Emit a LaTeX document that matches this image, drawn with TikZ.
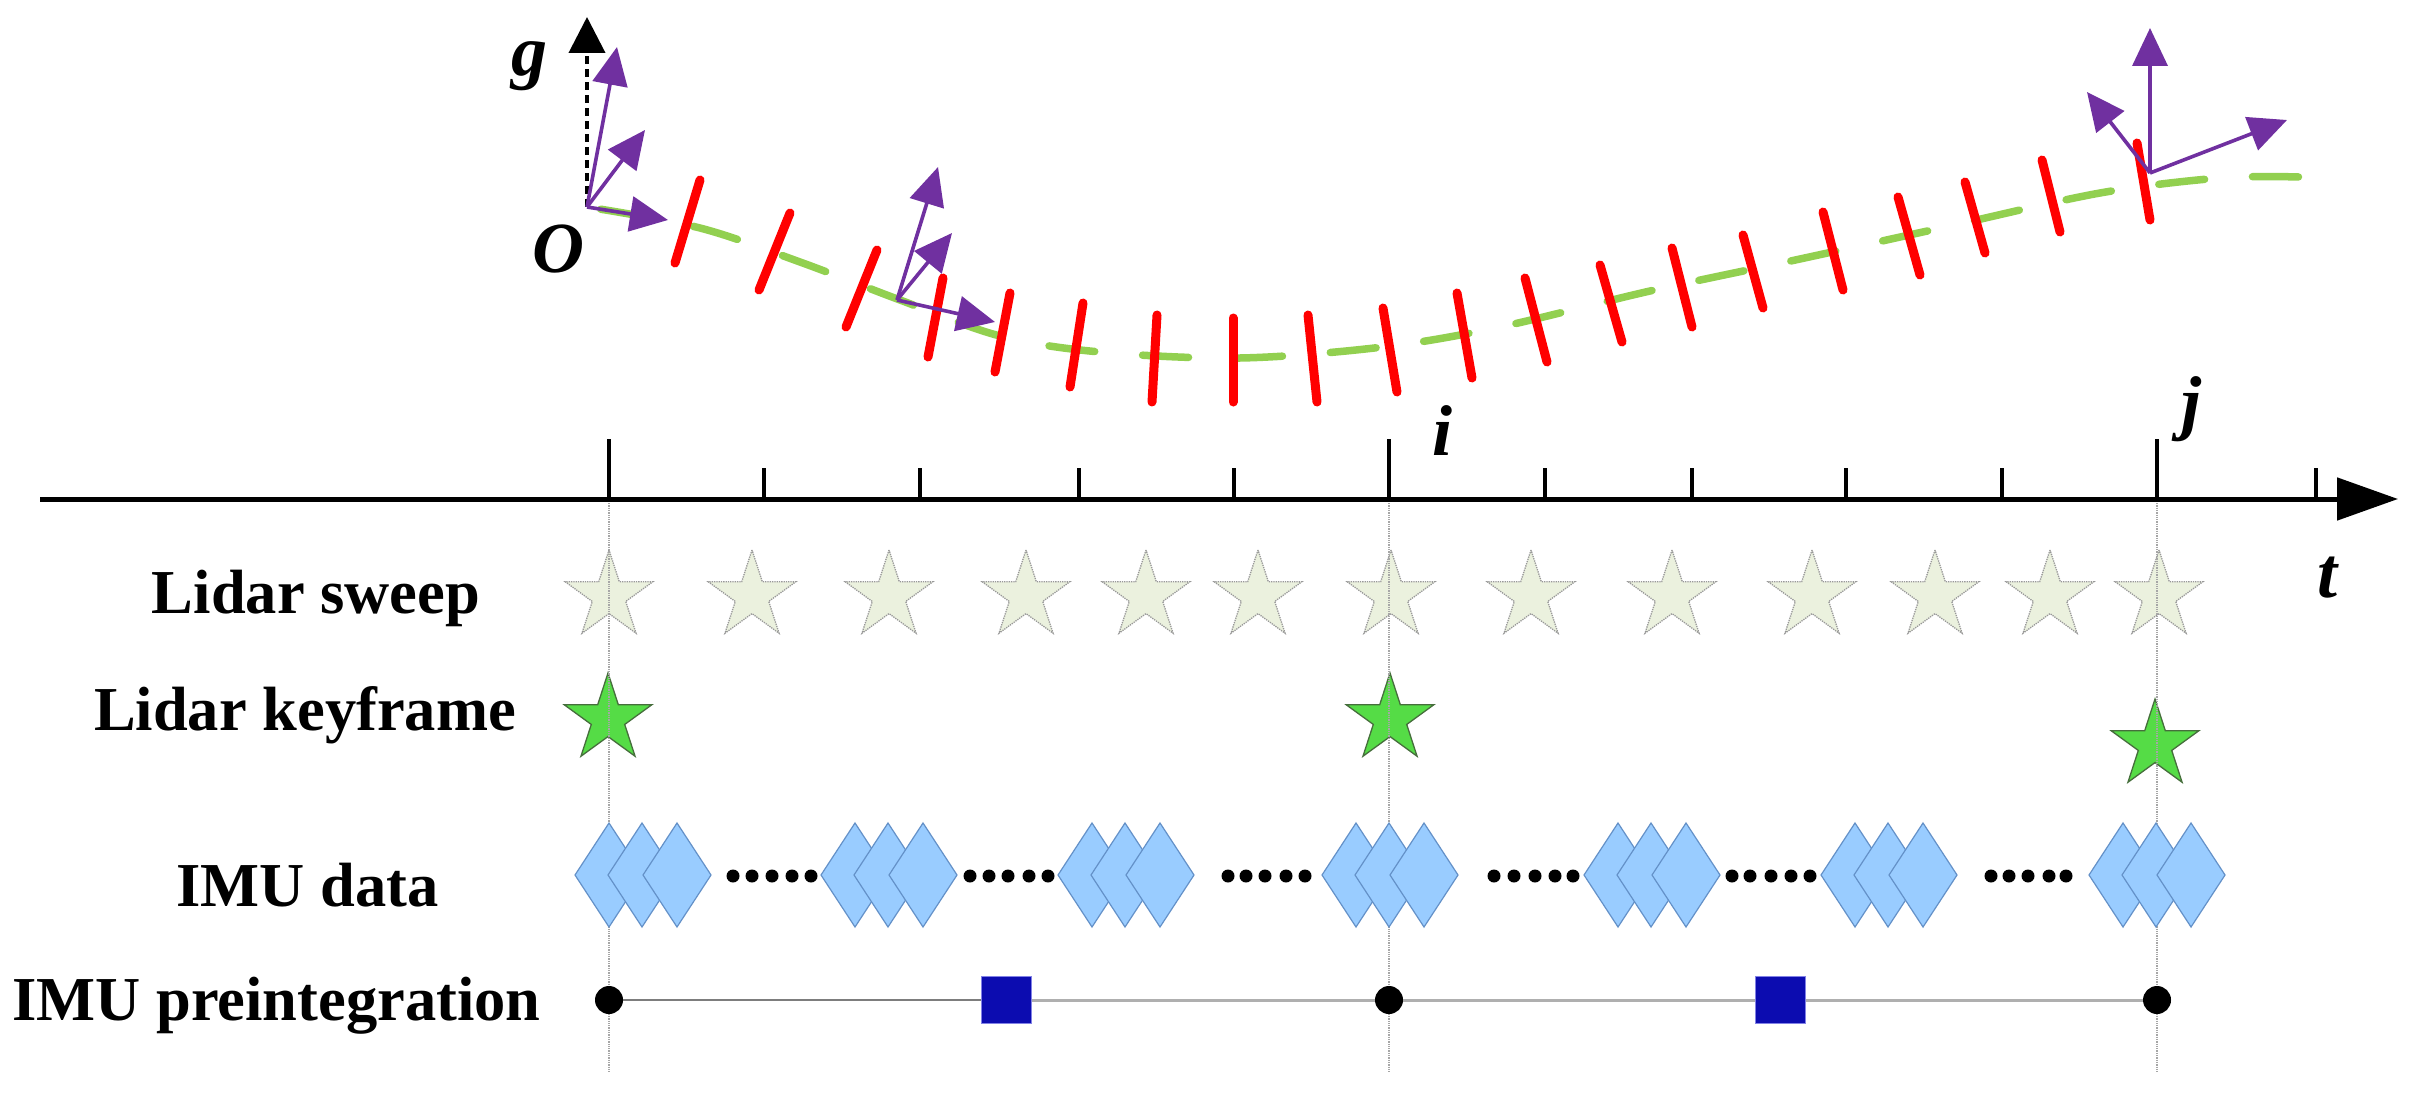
\documentclass[tikz,border=0pt]{standalone}
\usepackage{fontspec}
\setmainfont{Liberation Serif}
\usetikzlibrary{arrows.meta,shapes.geometric}
\definecolor{purp}{RGB}{112,48,160}
\definecolor{lgreen}{RGB}{146,208,80}
\definecolor{sweepfill}{RGB}{235,241,222}
\definecolor{keyfill}{RGB}{85,220,70}
\definecolor{keydraw}{RGB}{70,110,60}
\definecolor{diafill}{RGB}{153,204,255}
\definecolor{diadraw}{RGB}{100,145,200}
\definecolor{sqfill}{RGB}{12,12,176}
\definecolor{sqdraw}{RGB}{130,130,230}
\definecolor{plinedark}{RGB}{125,125,125}
\definecolor{plinelight}{RGB}{175,175,175}
\begin{document}
\begin{tikzpicture}[x=1pt,y=-1pt,
  lbl/.style={font=\fontsize{62.5}{70}\selectfont\bfseries, anchor=base, inner sep=0pt},
  mlbl/.style={font=\fontsize{72}{80}\selectfont\bfseries\itshape, anchor=base, inner sep=0pt},
  sweepstar/.style={star, star points=5, star point ratio=2.618, minimum size=92pt, inner sep=0pt,
     fill=sweepfill, draw=gray!80, line width=1.3pt, densely dotted},
  keystar/.style={star, star points=5, star point ratio=2.618, minimum size=92pt, inner sep=0pt,
     fill=keyfill, draw=keydraw, line width=1.3pt},
  dia/.style={fill=diafill, draw=diadraw, line width=1.2pt},
  vline/.style={draw=gray!70, line width=1.3pt, densely dotted},
  axisline/.style={line width=5pt, -{Triangle[length=61pt,width=42pt]}},
  tickline/.style={line width=4pt},
  redtick/.style={draw=red, line width=9pt, line cap=round},
  curve/.style={draw=lgreen, line width=7.5pt, line cap=round, dash pattern=on 46pt off 48pt, dash phase=80pt},
  parrow/.style={draw=purp, line width=3.6pt, -{Triangle[length=38pt,width=35pt]}},
  garrow/.style={draw=black, line width=4pt, dash pattern=on 8pt off 5pt, -{Triangle[length=36pt,width=36pt]}},
  pdot/.style={circle, fill=black, minimum size=28pt, inner sep=0pt},
  sq/.style={rectangle, fill=sqfill, draw=sqdraw, line width=1pt, minimum width=50pt, minimum height=47pt, inner sep=0pt},
  pline/.style={draw=plinelight, line width=3pt}
]
\useasboundingbox (0,0) rectangle (2411,1094);
\fill[white] (0,0) rectangle (2411,1094);

% ---------- trajectory ----------
\draw[curve] plot[smooth, tension=0.55] coordinates {(587,207) (700,228) (800,262) (900,300) (1000,336) (1100,352) (1240,358) (1383,347) (1500,327) (1650,291) (1800,259) (1950,226) (2100,193) (2220,178) (2300,177)};

\foreach \ax/\ay/\bx/\by in {700/180/675/263, 790/213/759/290, 877/250/846/327, 943/278/928/357,
  1010/293/995/372, 1083/303/1070/387, 1157/315/1152/402, 1233/318/1233/402, 1308/315/1317/402,
  1383/308/1397/392, 1457/293/1472/378, 1525/278/1547/362, 1600/265/1622/342, 1672/248/1692/327,
  1743/235/1763/308, 1823/212/1843/290, 1898/197/1920/275, 1965/182/1985/253, 2042/160/2060/232,
  2137/143/2150/220}
  \draw[redtick] (\ax,\ay) -- (\bx,\by);

% gravity
\coordinate (O) at (587,207);
\coordinate (gtip) at (587,17);
\draw[garrow] (O) -- (gtip);
\node[mlbl] (glabel) at (529,76) {g};
\node[mlbl] (Olabel) at (558,272) {O};

% frames
\coordinate (f1x) at (668,220);
\coordinate (f1y) at (645,130);
\coordinate (f1z) at (617,47);
\draw[parrow] (O) -- (f1z);
\draw[parrow] (O) -- (f1y);
\draw[parrow] (O) -- (f1x);

\coordinate (F2) at (897,300);
\coordinate (f2x) at (995,322);
\coordinate (f2y) at (952,233);
\coordinate (f2z) at (938,167);
\draw[parrow] (F2) -- (f2z);
\draw[parrow] (F2) -- (f2y);
\draw[parrow] (F2) -- (f2x);

\coordinate (F3) at (2150,173);
\coordinate (f3x) at (2287,120);
\coordinate (f3y) at (2087,92);
\coordinate (f3z) at (2150,28);
\draw[parrow] (F3) -- (f3z);
\draw[parrow] (F3) -- (f3y);
\draw[parrow] (F3) -- (f3x);

% ---------- time axis ----------
\coordinate (axL) at (40,499);
\coordinate (axR) at (2398,499);
\draw[axisline] (axL) -- (axR);
\foreach \x in {764,920,1079,1234,1545,1692,1846,2002,2316}
  \draw[tickline] (\x,501) -- (\x,468);
\foreach \x in {609,1389,2157}
  \draw[tickline] (\x,501) -- (\x,439);
\node[mlbl] (ilabel) at (1442,455) {i};
\node[mlbl] (jlabel) at (2191,426) {j};
\node[mlbl] (tlabel) at (2327,597) {t};

% ---------- row labels ----------
\node[lbl] (l1) at (316,613) {Lidar sweep};
\node[lbl] (l2) at (305,730) {Lidar keyframe};
\node[lbl] (l3) at (307.5,906) {IMU data};
\node[lbl] (l4) at (276.5,1020) {IMU preintegration};

% ---------- lidar sweeps ----------
\foreach \x [count=\k] in {609,752,889,1026,1146,1258,1391,1531,1672,1812,1935,2050,2159}
  \node[sweepstar] (sw\k) at (\x,596) {};

% keyframes
\node[keystar] (kf1) at (608,719) {};
\node[keystar] (kf2) at (1390,719) {};
\node[keystar] (kf3) at (2155,745) {};

% dotted verticals
\foreach \x in {609,1389,2157}
  \draw[vline] (\x,503) -- (\x,1072);

% ---------- IMU data ----------
\foreach \gx in {609,855,1092,1356,1618,1855,2123}
  \foreach \o in {0,33,68}
    \path[dia] ({\gx+\o},875) +(-34,0) -- +(0,-52) -- +(34,0) -- +(0,52) -- cycle;
\foreach \dx in {733,752,772,792,811, 970,989,1008,1029,1048, 1228,1246,1265,1286,1305,
                 1494,1514,1535,1555,1573, 1732,1750,1771,1791,1810, 1991,2009,2028,2049,2066}
  \fill (\dx,876) circle (6.5pt);

% ---------- IMU preintegration ----------
\node[pdot] (p1) at (609,1000) {};
\node[pdot] (p2) at (1389,1000) {};
\node[pdot] (p3) at (2157,1000) {};
\node[sq] (q1) at (1006,1000) {};
\node[sq] (q2) at (1780,1000) {};
\draw[pline, draw=plinedark, line width=2.5pt] (p1) -- (q1);
\draw[pline] (q1) -- (p2);
\draw[pline] (p2) -- (q2);
\draw[pline] (q2) -- (p3);
\end{tikzpicture}
\end{document}
